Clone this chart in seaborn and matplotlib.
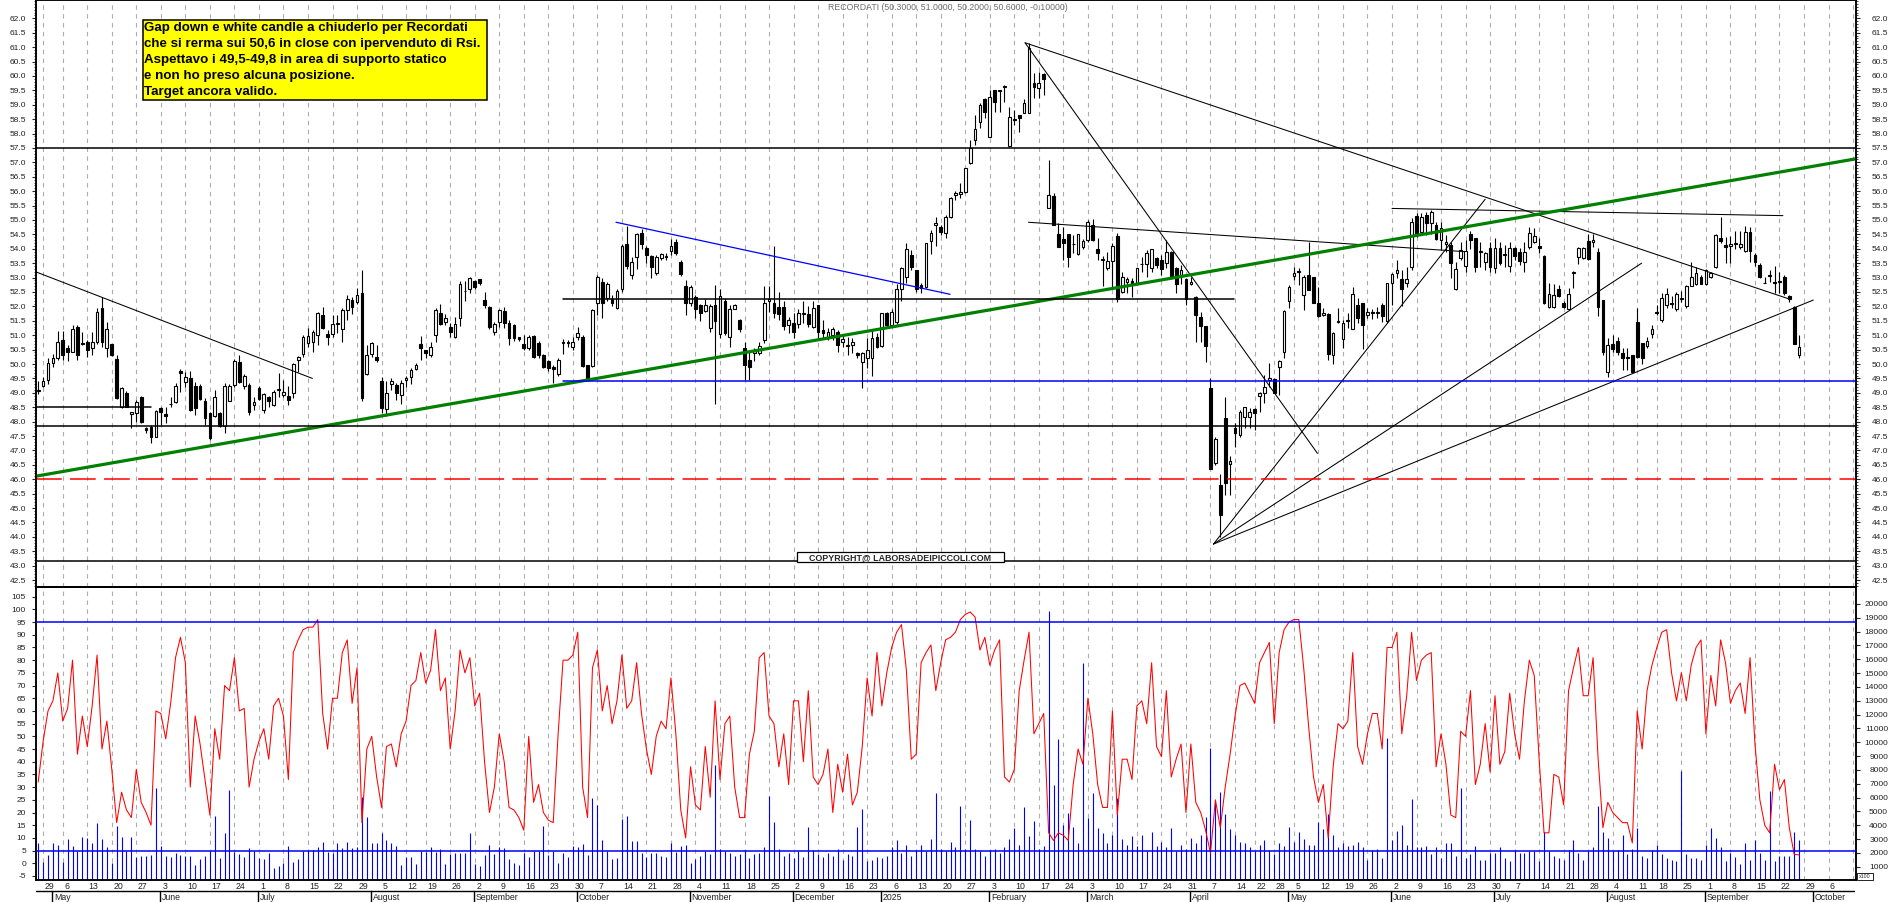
import numpy as np
import pandas as pd
import matplotlib
matplotlib.use("Agg")
import matplotlib.pyplot as plt
import matplotlib.transforms as mtransforms
from matplotlib.patches import Rectangle
from matplotlib.lines import Line2D
import seaborn as sns

W, H = 1890, 902
sns.set_theme(style="white")
plt.rcParams['font.family'] = ['Liberation Sans', 'DejaVu Sans']
plt.rcParams['lines.scale_dashes'] = False

# ---------------- calendar (Borsa Italiana trading days) ----------------
HOLIDAYS = ['2024-05-01', '2024-08-15', '2024-12-24', '2024-12-25', '2024-12-26',
            '2024-12-31', '2025-01-01', '2025-04-18', '2025-04-21', '2025-05-01',
            '2025-08-15']
calendar = pd.bdate_range("2024-04-26", "2025-10-17", freq="C", holidays=HOLIDAYS)
MONTH_NAMES = ["2025", "February", "March", "April", "May", "June", "July", "August",
               "September", "October", "November", "December"]

# ---------------- data: RECORDATI daily OHLC ----------------
open_ = [
    49.05, 49.25, 49.45, 50.05, 50.2, 50.85, 50.55, 50.4, 51.3, 50.72,
    50.75, 50.55, 50.77, 51.93, 50.54, 50.68, 50.17, 48.5, 49.0, 48.28,
    48.31, 48.85, 47.77, 47.83, 47.48, 48.46, 48.27, 48.6, 48.69, 49.77,
    49.39, 49.53, 49.24, 49.24, 48.73, 48.31, 48.2, 48.29, 47.85, 48.73,
    49.27, 50.06, 49.22, 49.27, 48.56, 49.16, 48.41, 48.85, 48.56, 49.1,
    48.93, 48.9, 48.98, 50.14, 50.35, 50.72, 50.78, 51.01, 51.7, 51.04,
    51.04, 51.4, 51.22, 51.88, 52.22, 52.14, 52.48, 49.65, 50.34, 50.26,
    49.42, 48.45, 49.29, 49.27, 48.93, 49.46, 49.56, 49.82, 50.68, 50.49,
    50.31, 51.01, 51.78, 51.47, 51.3, 50.95, 51.59, 52.52, 52.6, 52.88,
    52.94, 52.22, 51.97, 51.12, 51.47, 51.84, 51.41, 51.35, 50.94, 50.69,
    50.54, 50.97, 50.74, 50.31, 50.1, 49.91, 49.65, 50.73, 50.74, 50.6,
    50.95, 50.93, 49.96, 49.93, 52.13, 52.86, 52.28, 52.25, 51.93, 52.59,
    54.17, 53.09, 53.7, 54.56, 54.02, 53.75, 53.17, 53.67, 53.72, 53.93,
    54.25, 53.55, 52.71, 52.11, 52.31, 52.05, 51.84, 51.24, 52.05, 51.03,
    52.19, 50.95, 51.91, 51.53, 50.55, 50.14, 50.37, 50.37, 50.83, 52.2,
    52.11, 51.97, 51.99, 51.36, 51.41, 51.39, 51.75, 51.73, 51.3, 52.05,
    51.18, 50.89, 51.0, 51.12, 50.78, 50.62, 50.66, 50.37, 50.06, 50.2,
    50.2, 50.95, 50.63, 51.76, 51.36, 51.47, 52.59, 53.03, 53.78, 53.26,
    52.74, 52.66, 54.28, 54.83, 54.77, 54.54, 55.12, 55.85, 55.89, 55.98,
    56.99, 57.78, 58.39, 59.19, 57.89, 59.51, 59.46, 59.6, 57.57, 58.47,
    58.64, 58.72, 58.7, 59.77, 59.57, 60.07, 55.4, 55.83, 54.51, 54.33,
    54.51, 54.15, 53.82, 54.05, 54.3, 54.83, 53.98, 53.6, 53.32, 53.58,
    54.44, 52.51, 52.83, 52.89, 52.8, 53.46, 53.47, 53.32, 53.67, 53.61,
    53.49, 53.9, 53.32, 53.09, 52.94, 52.78, 52.31, 51.64, 51.32, 49.16,
    46.58, 45.8, 48.11, 46.52, 47.79, 47.54, 48.17, 48.17, 48.44, 48.9,
    48.98, 49.45, 49.47, 49.91, 50.43, 52.19, 53.05, 53.18, 52.4, 53.09,
    53.01, 52.13, 51.7, 51.74, 50.31, 51.46, 50.86, 51.49, 51.2, 52.05,
    52.11, 51.7, 51.8, 51.77, 52.05, 51.49, 52.82, 53.17, 52.94, 52.8,
    53.38, 55.14, 54.59, 55.17, 54.88, 54.83, 54.31, 54.15, 54.13, 52.59,
    53.67, 53.4, 54.5, 54.36, 53.9, 53.55, 54.02, 53.34, 54.04, 53.8,
    53.41, 54.02, 53.9, 53.55, 54.07, 54.25, 54.1, 53.75, 51.99, 51.99,
    52.59, 52.11, 51.9, 53.16, 53.73, 53.69, 54.27, 54.22, 53.88, 52.22,
    49.71, 50.68, 50.8, 50.37, 50.22, 50.31, 51.47, 50.72, 50.62, 51.04,
    51.76, 51.53, 52.05, 52.08, 51.9, 52.27, 52.01, 52.71, 52.78, 53.03,
    52.78, 53.01, 53.38, 54.37, 54.13, 54.1, 54.15, 54.07, 53.93, 54.59,
    53.78, 53.44, 52.82, 53.05, 52.85, 52.87, 53.01, 52.36, 51.99, 50.3]
high = [
    49.4, 49.55, 50.2, 50.35, 51.15, 51.15, 50.65, 51.35, 51.35, 51.1,
    50.85, 51.1, 51.93, 52.33, 51.47, 50.7, 50.3, 49.2, 49.05, 48.35,
    48.75, 48.9, 47.83, 47.87, 48.4, 48.52, 48.52, 48.87, 49.33, 49.82,
    49.73, 49.77, 49.39, 49.3, 48.81, 48.35, 49.1, 48.35, 49.33, 49.3,
    50.17, 50.31, 49.65, 49.33, 48.87, 49.22, 49.0, 48.89, 49.1, 49.68,
    49.45, 49.24, 50.03, 50.28, 51.0, 51.24, 51.18, 51.82, 51.99, 51.18,
    51.7, 51.7, 51.93, 52.4, 52.34, 52.63, 53.26, 50.66, 50.78, 50.66,
    49.55, 49.4, 49.5, 49.35, 49.45, 49.58, 49.85, 50.05, 50.97, 50.5,
    50.77, 51.93, 52.08, 51.75, 51.43, 51.64, 52.89, 52.88, 53.03, 52.92,
    52.96, 52.5, 52.0, 51.45, 51.9, 51.99, 51.53, 51.4, 50.95, 51.0,
    51.02, 51.0, 50.8, 50.35, 50.15, 49.95, 50.2, 50.88, 50.85, 50.95,
    51.3, 51.0, 49.98, 51.9, 53.1, 53.0, 52.85, 52.4, 52.6, 54.15,
    54.8, 53.7, 54.55, 54.7, 54.1, 53.8, 53.8, 53.85, 53.85, 54.35,
    54.35, 53.6, 52.9, 52.75, 52.4, 52.1, 52.25, 52.1, 52.74, 52.6,
    52.3, 52.05, 52.1, 51.55, 50.78, 50.4, 50.55, 50.78, 52.71, 52.71,
    54.1, 52.5, 52.17, 51.64, 51.76, 51.9, 52.2, 52.0, 52.2, 52.05,
    51.53, 51.25, 51.3, 51.18, 51.0, 50.95, 50.9, 50.43, 50.43, 50.89,
    51.18, 51.06, 51.76, 51.82, 51.9, 52.78, 53.36, 54.19, 53.95, 53.26,
    52.8, 54.19, 54.65, 55.09, 54.83, 55.17, 55.81, 56.0, 56.29, 56.82,
    57.78, 58.64, 59.05, 59.22, 59.51, 59.51, 59.51, 59.69, 58.91, 58.82,
    58.64, 59.19, 61.13, 60.09, 60.15, 60.1, 57.08, 55.92, 54.88, 54.77,
    54.51, 54.47, 54.51, 54.35, 55.0, 55.05, 54.36, 53.75, 53.9, 54.21,
    54.56, 53.2, 53.01, 52.97, 53.32, 53.73, 53.96, 53.98, 53.73, 53.78,
    54.3, 53.93, 53.36, 53.44, 52.97, 53.03, 52.36, 51.82, 51.32, 49.5,
    47.45, 46.17, 48.86, 46.8, 47.94, 48.4, 48.52, 48.46, 48.46, 49.04,
    49.62, 50.02, 49.5, 50.14, 51.87, 52.74, 53.38, 53.32, 53.09, 54.25,
    53.01, 52.68, 51.93, 51.76, 51.12, 51.93, 51.53, 51.76, 52.68, 52.28,
    52.11, 51.93, 51.9, 51.99, 52.11, 52.82, 53.15, 53.61, 53.26, 53.36,
    55.06, 55.25, 55.25, 55.29, 55.35, 54.94, 54.94, 54.48, 54.25, 53.55,
    54.25, 54.3, 54.6, 54.39, 54.25, 53.9, 54.25, 54.36, 54.25, 54.13,
    54.25, 54.07, 54.02, 54.25, 54.77, 54.73, 54.36, 53.79, 52.8, 52.77,
    52.74, 52.17, 52.63, 53.23, 54.07, 54.07, 54.5, 54.5, 54.02, 52.22,
    50.92, 51.0, 50.95, 50.54, 50.54, 50.31, 51.93, 50.72, 50.95, 51.35,
    52.05, 52.45, 52.65, 52.35, 52.5, 52.55, 52.75, 53.55, 53.35, 53.1,
    53.3, 53.2, 54.5, 55.12, 54.4, 54.45, 54.62, 54.62, 54.8, 54.75,
    53.84, 53.5, 53.01, 53.25, 53.4, 53.2, 53.1, 52.4, 52.0, 51.0]
low = [
    48.95, 49.2, 49.3, 49.9, 50.15, 50.15, 50.1, 50.4, 50.15, 50.65,
    50.25, 50.3, 50.7, 50.6, 50.25, 50.28, 48.8, 48.46, 48.5, 47.78,
    48.0, 47.95, 47.62, 47.27, 47.45, 47.9, 47.95, 48.5, 48.63, 49.04,
    49.2, 48.37, 48.23, 48.75, 47.9, 47.36, 48.15, 47.8, 47.6, 48.7,
    49.2, 49.35, 49.15, 48.23, 48.4, 48.75, 48.31, 48.52, 48.55, 48.87,
    48.87, 48.58, 48.81, 49.73, 50.26, 50.6, 50.43, 50.66, 51.22, 50.66,
    50.93, 51.07, 50.78, 51.53, 51.74, 52.1, 48.7, 49.62, 50.26, 50.08,
    48.3, 48.2, 49.1, 48.75, 48.6, 49.2, 49.3, 49.8, 50.13, 50.2,
    50.25, 50.77, 51.35, 51.35, 50.95, 50.9, 51.32, 52.2, 52.45, 52.6,
    52.75, 51.95, 51.2, 51.0, 51.3, 51.24, 50.66, 50.8, 50.8, 50.5,
    50.5, 50.2, 50.2, 49.85, 49.75, 49.33, 49.6, 50.35, 50.6, 50.5,
    50.85, 49.9, 49.4, 49.9, 51.7, 51.6, 52.2, 52.0, 51.9, 52.5,
    53.3, 52.95, 53.3, 54.0, 53.5, 53.0, 53.1, 53.6, 53.6, 53.8,
    53.8, 53.05, 51.7, 52.0, 51.6, 51.5, 51.8, 51.1, 48.6, 50.9,
    51.0, 50.6, 51.9, 51.1, 49.44, 49.44, 50.1, 50.3, 50.72, 51.82,
    51.58, 51.53, 51.18, 51.07, 50.9, 51.24, 51.41, 51.3, 51.24, 50.83,
    50.9, 50.85, 50.83, 50.43, 50.6, 50.31, 50.37, 50.2, 49.16, 49.85,
    49.6, 50.54, 50.6, 51.3, 51.3, 51.4, 52.2, 52.8, 53.26, 52.5,
    52.45, 52.63, 53.82, 54.1, 54.48, 54.36, 55.06, 55.7, 55.75, 55.93,
    56.94, 57.6, 58.18, 58.53, 57.89, 58.76, 58.76, 59.1, 57.55, 58.3,
    58.07, 58.7, 58.7, 59.22, 59.22, 59.34, 55.4, 54.83, 54.05, 53.6,
    53.35, 53.84, 53.8, 54.0, 54.25, 54.28, 53.6, 52.7, 53.26, 52.6,
    52.16, 52.45, 52.45, 52.32, 52.74, 53.2, 53.03, 53.2, 53.32, 53.09,
    53.32, 52.94, 52.45, 52.78, 52.05, 52.74, 50.77, 50.77, 50.08, 46.34,
    46.5, 43.99, 45.45, 45.45, 47.13, 47.48, 47.77, 47.77, 47.71, 48.35,
    48.63, 49.21, 49.0, 48.92, 50.2, 51.93, 52.92, 52.74, 51.87, 52.57,
    52.11, 51.64, 51.67, 50.14, 50.0, 51.41, 50.55, 51.24, 51.2, 51.41,
    50.51, 51.59, 51.55, 51.59, 51.47, 51.43, 52.05, 52.97, 52.0, 52.68,
    53.26, 54.4, 54.5, 54.48, 54.5, 54.3, 53.96, 53.9, 53.0, 52.57,
    53.6, 53.2, 54.0, 53.2, 53.38, 53.27, 53.2, 53.15, 53.44, 53.38,
    53.2, 53.61, 53.44, 53.2, 54.0, 54.19, 53.84, 52.07, 51.96, 51.96,
    52.34, 51.93, 51.88, 52.63, 53.46, 53.64, 53.6, 54.07, 51.68, 50.3,
    49.56, 50.43, 50.31, 49.8, 49.8, 49.68, 50.2, 50.0, 50.55, 50.9,
    51.7, 51.45, 51.95, 51.95, 51.85, 52.15, 51.95, 52.7, 52.75, 52.78,
    52.75, 53.0, 53.33, 54.2, 53.5, 53.5, 54.0, 54.0, 53.9, 53.55,
    53.4, 52.97, 52.8, 52.85, 52.45, 52.45, 52.4, 52.15, 50.7, 50.2]
close = [
    49.1, 49.4, 50.05, 50.2, 50.75, 50.3, 50.4, 51.2, 50.3, 50.68,
    50.5, 50.75, 51.79, 50.77, 51.2, 50.33, 48.81, 49.16, 48.5, 48.32,
    48.67, 48.0, 47.7, 47.46, 48.38, 48.35, 48.18, 48.62, 49.24, 49.68,
    49.54, 48.4, 48.46, 48.78, 48.12, 47.42, 48.87, 47.85, 49.24, 49.22,
    50.11, 49.39, 49.6, 48.35, 48.67, 48.79, 48.95, 48.7, 49.04, 49.13,
    49.04, 48.75, 49.99, 50.23, 50.95, 50.98, 51.12, 51.78, 51.24, 50.95,
    51.39, 51.42, 51.88, 52.25, 51.97, 52.4, 48.81, 50.31, 50.74, 50.14,
    48.48, 48.98, 49.41, 48.98, 49.33, 49.5, 49.79, 49.97, 50.57, 50.39,
    50.6, 51.87, 51.39, 51.59, 51.1, 51.38, 52.78, 52.54, 52.99, 52.66,
    52.8, 52.04, 51.3, 51.39, 51.87, 51.41, 50.92, 50.9, 50.86, 50.54,
    50.95, 50.23, 50.31, 49.9, 49.85, 49.82, 50.14, 50.75, 50.77, 50.77,
    51.09, 49.93, 49.47, 51.87, 53.01, 52.11, 52.78, 52.11, 52.55, 54.1,
    53.4, 53.55, 54.51, 54.17, 53.78, 53.36, 53.7, 53.82, 53.74, 54.1,
    53.84, 53.11, 52.11, 52.66, 51.9, 51.76, 52.05, 52.01, 51.5, 52.36,
    51.07, 51.9, 52.05, 51.2, 49.97, 49.91, 50.46, 50.63, 52.11, 52.25,
    51.76, 51.74, 51.33, 51.53, 51.12, 51.76, 51.77, 51.39, 51.93, 51.12,
    51.07, 51.1, 51.2, 50.66, 50.87, 50.64, 50.78, 50.31, 50.39, 50.48,
    50.89, 50.6, 51.76, 51.36, 51.82, 52.59, 53.32, 53.98, 53.36, 52.59,
    52.63, 54.19, 54.54, 54.88, 54.59, 55.12, 55.75, 55.94, 55.98, 56.79,
    57.49, 58.16, 58.99, 58.76, 59.26, 59.11, 59.5, 59.65, 58.59, 58.51,
    58.55, 59.05, 60.96, 59.6, 59.77, 59.88, 55.87, 54.83, 54.07, 54.19,
    53.7, 54.17, 54.51, 54.28, 54.94, 54.3, 53.84, 53.63, 53.58, 54.1,
    52.25, 53.01, 52.94, 52.78, 53.32, 53.48, 53.84, 53.98, 53.43, 53.29,
    53.9, 52.97, 52.78, 53.26, 52.25, 52.86, 51.7, 51.32, 50.64, 46.34,
    47.39, 44.76, 45.88, 46.63, 47.62, 48.35, 48.5, 48.35, 48.29, 48.98,
    49.21, 49.5, 49.01, 50.12, 51.85, 52.68, 53.15, 53.22, 53.01, 52.57,
    52.13, 51.67, 51.76, 50.35, 51.09, 51.48, 51.44, 51.51, 52.42, 51.59,
    51.35, 51.82, 51.76, 51.79, 51.67, 52.8, 53.11, 53.26, 52.59, 52.94,
    54.94, 54.48, 55.09, 54.88, 55.29, 54.33, 54.71, 54.22, 53.5, 53.3,
    53.96, 53.92, 54.31, 53.36, 53.94, 53.84, 53.38, 54.04, 53.5, 53.82,
    54.04, 53.75, 53.58, 53.9, 54.54, 54.46, 54.02, 52.11, 52.42, 52.4,
    52.37, 51.99, 52.42, 53.2, 54.04, 54.04, 53.65, 54.31, 51.99, 50.41,
    50.65, 50.52, 50.41, 50.22, 50.26, 49.71, 50.23, 50.2, 50.81, 51.2,
    51.82, 52.28, 52.42, 52.12, 52.42, 52.3, 52.71, 53.03, 53.15, 52.78,
    53.28, 53.17, 54.47, 54.28, 54.05, 54.15, 54.21, 54.15, 54.59, 53.93,
    53.55, 53.01, 52.8, 53.07, 52.82, 52.85, 52.45, 52.26, 50.7, 50.6]

# RSI (left scale of the lower panel)
rsi = [
    32, 48, 60, 64, 75, 56, 61, 80, 43, 58,
    46, 62, 82, 45, 56, 37, 16, 28, 21, 18,
    37, 24, 20, 15, 60, 59, 49, 63, 81, 89,
    79, 30, 58, 47, 33, 19, 53, 41, 70, 68,
    81, 60, 61, 30, 41, 48, 53, 41, 62, 65,
    58, 33, 83, 88, 92, 93, 93, 96, 59, 45,
    65, 65, 83, 88, 63, 77, 16, 45, 50, 34,
    22, 46, 47, 38, 51, 56, 70, 72, 83, 71,
    76, 92, 68, 73, 45, 60, 84, 75, 81, 62,
    67, 40, 20, 30, 51, 40, 22, 21, 18, 13,
    50, 24, 31, 20, 17, 16, 51, 80, 80, 82,
    91, 30, 18, 77, 84, 60, 70, 55, 64, 82,
    61, 64, 79, 59, 45, 35, 50, 56, 53, 73,
    51, 21, 10, 38, 23, 21, 46, 26, 64, 33,
    55, 58, 30, 18, 18, 43, 52, 81, 83, 58,
    55, 38, 51, 31, 64, 64, 40, 68, 34, 31,
    35, 45, 20, 39, 28, 43, 23, 28, 46, 73,
    58, 83, 62, 75, 85, 91, 94, 76, 41, 43,
    79, 83, 86, 68, 79, 88, 89, 91, 96, 98,
    99, 97, 84, 89, 78, 84, 88, 34, 32, 37,
    68, 80, 91, 51, 55, 59, 12, 9, 12, 11,
    9, 31, 45, 39, 65, 51, 31, 22, 22, 60,
    19, 41, 41, 33, 62, 64, 55, 79, 46, 42,
    68, 34, 41, 47, 20, 47, 24, 20, 13, 4,
    25, 14, 30, 43, 58, 70, 71, 67, 63, 79,
    83, 87, 55, 83, 92, 95, 96, 96, 77, 54,
    34, 24, 31, 10, 38, 55, 53, 56, 83, 46,
    39, 51, 59, 59, 45, 85, 85, 91, 51, 66,
    91, 72, 80, 82, 83, 38, 51, 39, 19, 18,
    52, 50, 68, 31, 39, 55, 36, 66, 39, 44,
    67, 51, 41, 64, 80, 74, 41, 12, 12, 35,
    34, 23, 68, 77, 85, 66, 66, 81, 42, 14,
    24, 20, 18, 16, 16, 8, 60, 45, 68, 78,
    85, 91, 92, 75, 64, 75, 64, 78, 85, 88,
    51, 74, 62, 88, 79, 63, 68, 71, 59, 81,
    47, 25, 15, 12, 39, 29, 33, 14, 3.5, 3.3]

# Volume (right scale of the lower panel, x100)
volume = [
    2690, 1362, 1845, 2737, 2567, 1362, 2977, 2495, 2157, 3170,
    3050, 2737, 4135, 2977, 2446, 1241, 3942, 3170, 2157, 3170,
    1675, 1773, 1773, 1845, 6666, 2495, 1773, 1675, 2013, 1845,
    1773, 1773, 1121, 1532, 1773, 2157, 4665, 1604, 3411, 6547,
    2085, 1916, 1675, 2326, 2157, 1604, 1532, 1965, 880, 1049,
    1241, 2495, 1362, 1532, 2157, 2200, 2200, 2398, 2808, 2037,
    1965, 2737, 2326, 2808, 2326, 2446, 6064, 4617, 2737, 2690,
    3411, 2929, 2690, 2495, 1121, 1675, 1675, 1193, 2157, 2085,
    2398, 2085, 2250, 1193, 1916, 1965, 1965, 1965, 3411, 1193,
    1049, 1845, 2567, 1916, 2446, 2326, 1532, 1241, 1121, 1965,
    1675, 2157, 2157, 3942, 1845, 2157, 1241, 1965, 1700, 2495,
    2446, 2640, 1845, 5944, 5462, 2929, 2157, 1532, 1604, 4424,
    4665, 2881, 2881, 1965, 1675, 2013, 2013, 1773, 1675, 2690,
    2085, 2495, 2567, 1241, 1532, 1800, 2100, 1900, 8350, 2300,
    2100, 2000, 1800, 1900, 2200, 1600, 1900, 2000, 2400, 6100,
    4200, 2300, 1800, 2000, 1600, 2100, 1700, 3900, 2200, 1900,
    1700, 2000, 1800, 2300, 1500, 1900, 1800, 3900, 5200, 1400,
    1500, 1700, 1600, 1800, 2400, 2900, 2000, 2600, 1800, 2200,
    2600, 2100, 3000, 6300, 2300, 2100, 2800, 2400, 5400, 2300,
    4400, 2300, 2100, 1800, 2200, 2300, 2000, 2400, 3000, 3800,
    2600, 5300, 3200, 4300, 2300, 2500, 19500, 6900, 10200, 4000,
    4900, 3900, 2700, 15700, 4500, 6300, 3800, 3400, 2700, 3300,
    6000, 3000, 2600, 3200, 2500, 3300, 2100, 3500, 2500, 2800,
    2400, 3800, 2100, 2600, 2300, 3100, 2700, 3300, 4600, 9600,
    5800, 6400, 4800, 3700, 3300, 2800, 2700, 2400, 2100, 2600,
    2900, 2200, 1900, 2700, 2500, 3900, 2800, 3500, 3000, 2600,
    2600, 4200, 3700, 4800, 3300, 2400, 2700, 2500, 2600, 2800,
    2400, 1500, 2200, 2300, 1600, 10300, 2900, 3600, 4000, 2600,
    5900, 2400, 2400, 2500, 1900, 2400, 1600, 2700, 2700, 1800,
    6700, 1600, 1900, 2500, 1500, 1500, 2000, 2000, 2400, 1600,
    1400, 2200, 2000, 2000, 2100, 2100, 1400, 3500, 2100, 1800,
    1600, 1500, 2200, 2900, 2000, 1500, 2100, 2400, 5400, 3500,
    3100, 2100, 2200, 3300, 1900, 2300, 3800, 1800, 1600, 2200,
    2600, 1900, 1600, 1500, 1400, 7900, 1900, 1600, 1600, 1500,
    2600, 3800, 3100, 2400, 1400, 2000, 1700, 1200, 2700, 1500,
    2900, 2000, 1500, 6500, 1400, 1800, 1800, 1800, 3500, 2950]

# drawn analysis lines: (bar index start, price start, bar index end, price end)
trend_black = [(-0.5, 53.2, 55.9, 49.5),
               (201.2, 61.15, 357.1, 52.25),
               (201.2, 61.15, 260.8, 46.9),
               (201.9, 54.92, 290.8, 53.9),
               (276.0, 55.4, 355.7, 55.15),
               (239.6, 43.75, 295.0, 55.72),
               (239.6, 43.75, 326.9, 53.5),
               (239.6, 43.75, 361.9, 52.22)]
trend_blue = [(117.8, 54.92, 185.9, 52.42)]
trend_green = [(-0.33, 46.11, 370.5, 57.12)]
level_segments = [(-0.5, 23.0, 48.5, 'black'), (107.0, 243.8, 52.25, 'black'),
                  (107.0, 370.6, 49.4, 'blue')]
level_full = [57.5, 47.85, 43.15]
level_target = 46.0
rsi_levels = [95, 5]

note_lines = ["Gap down e white candle a chiuderlo per Recordati",
              "che si rerma sui 50,6 in close con ipervenduto di Rsi.",
              "Aspettavo i 49,5-49,8 in area di supporto statico",
              "e non ho preso alcuna posizione.",
              "Target ancora valido."]
header = "RECORDATI (50.3000, 51.0000, 50.2000, 50.6000, -0.10000)"
copyright_txt = "COPYRIGHT@ LABORSADEIPICCOLI.COM"

# ---------------- figure ----------------
fig = plt.figure(figsize=(W / 100, H / 100), dpi=100)
fig.patch.set_facecolor('white')


def fx(px):
    return px / W


def fy(py):
    return 1 - py / H


XL, XR = 35.7, 1855.7
P_BOT, R_BOT = 587.0, 880.3
ax_p = fig.add_axes([fx(XL), fy(P_BOT), (XR - XL) / W, P_BOT / H])
ax_r = fig.add_axes([fx(XL), fy(R_BOT), (XR - XL) / W, (R_BOT - P_BOT) / H])
ax_v = ax_r.twinx()
ax_p2 = ax_p.twinx()

xmin, xmax = -0.51, 370.54
for a in (ax_p, ax_r, ax_v, ax_p2):
    a.set_xlim(xmin, xmax)
    a.set_xticks([])
    a.set_facecolor('none')
    for s in a.spines.values():
        s.set_color('black')
        s.set_linewidth(1.1)
ax_p.set_facecolor('white')
ax_v.set_facecolor('white')

n = len(close)
xi = np.arange(n)
o = np.array(open_); c = np.array(close); hi = np.array(high); lo = np.array(low)

# weekly dashed grid (under the marks of both panels)
wk = []
for i in range(1, len(calendar)):
    if calendar[i].isocalendar()[1] != calendar[i - 1].isocalendar()[1]:
        if wk and i - wk[-1] < 3:
            continue
        wk.append(i)
wk = [i for i in wk if i <= xmax]
for a in (ax_p, ax_v):
    for i in wk:
        a.axvline(i, color='#adadad', lw=0.8, ls=(0, (3.2, 3.2)), zorder=0)

# candles
ax_p.vlines(xi, lo, hi, color='black', lw=0.8, zorder=3)
body_lo = np.minimum(o, c)
body_h = np.maximum(np.abs(c - o), 0.025)
ax_p.bar(xi, body_h, bottom=body_lo, width=0.56,
         color=np.where(c >= o, 'white', 'black'), edgecolor='black',
         linewidth=0.8, zorder=4)

# analysis lines
for (i0, p0, i1, p1) in trend_black:
    ax_p.plot([i0, i1], [p0, p1], color='black', lw=0.75, zorder=5)
for (i0, p0, i1, p1) in trend_blue:
    ax_p.plot([i0, i1], [p0, p1], color='#0000ff', lw=0.9, zorder=5)
for (i0, p0, i1, p1) in trend_green:
    ax_p.plot([i0, i1], [p0, p1], color='#008000', lw=2.3, zorder=5,
              solid_capstyle='butt')
for (i0, i1, p, col) in level_segments:
    ax_p.plot([i0, i1], [p, p], color='#0000ff' if col == 'blue' else 'black',
              lw=1.1, zorder=5)
for p in level_full:
    ax_p.axhline(p, color='black', lw=1.1, zorder=5)
ax_p.axhline(level_target, color='#ff0000', lw=1.1, ls=(0, (18.5, 6)), zorder=5)

# price scale
ax_p.set_ylim(42.26, 62.635)
ax_p2.set_ylim(42.26, 62.635)
pt = np.arange(42.5, 62.01, 0.5)
for a in (ax_p, ax_p2):
    a.set_yticks(pt)
    a.set_yticklabels([f"{v:.1f}" for v in pt])
    a.set_yticks(np.arange(42.3, 62.61, 0.1), minor=True)
ax_p.tick_params(axis='y', which='major', left=True, right=False, labelleft=True,
                 labelright=False, length=2.9, width=0.8, pad=4.1, labelsize=6,
                 labelcolor='#222222', direction='out')
ax_p.tick_params(axis='y', which='minor', left=True, right=False, length=1.5, width=0.6,
                 direction='out')
ax_p2.tick_params(axis='y', which='major', left=False, right=True, labelleft=False,
                  labelright=True, length=2.9, width=0.8, pad=20.4, labelsize=6,
                  labelcolor='#222222', direction='out')
ax_p2.tick_params(axis='y', which='minor', left=False, right=True, length=1.5,
                  width=0.6, direction='out')
for t in ax_p2.get_yticklabels():
    t.set_ha('right')

# volume
ax_v.vlines(xi, 0, volume, color='#0000ff', lw=0.8, zorder=2)
ax_v.set_ylim(14, 21228)
vt = np.arange(1000, 20001, 1000)
ax_v.set_yticks(vt)
ax_v.set_yticklabels([str(v) for v in vt])
ax_v.tick_params(axis='y', right=True, left=False, length=2.9, width=0.8, pad=20.4,
                 labelsize=6, labelcolor='#222222', direction='out')
for t in ax_v.get_yticklabels():
    t.set_ha('right')

# RSI
ax_r.set_zorder(ax_v.get_zorder() + 1)
ax_r.patch.set_visible(False)
sns.lineplot(x=xi, y=rsi, ax=ax_r, color='#ff0000', lw=0.75, zorder=4, legend=False)
for lv in rsi_levels:
    ax_r.axhline(lv, color='#0000ff', lw=1.1, zorder=5)
ax_r.set_ylim(-6.70, 108.82)
rt = np.arange(-5, 106, 5)
ax_r.set_yticks(rt)
ax_r.set_yticklabels([str(v) for v in rt])
ax_r.tick_params(axis='y', left=True, right=False, length=2.9, width=0.8, pad=4.1,
                 labelsize=6, labelcolor='#222222', direction='out')
ax_r.set_xlabel(''); ax_r.set_ylabel(''); ax_v.set_ylabel('')

# ---------------- date axis rows ----------------
tr = mtransforms.blended_transform_factory(ax_r.transData, fig.transFigure)
fig.add_artist(Line2D([xmin, xmax - 0.4], [fy(891), fy(891)], transform=tr,
                      color='black', lw=1.0))
for i in wk:
    if i > 368:
        continue
    fig.text(i + 0.3, fy(886.2), str(calendar[i].day), transform=tr, fontsize=6.3,
             ha='left', va='center', color='#222222')
for i in range(1, len(calendar)):
    if calendar[i].month != calendar[i - 1].month and i <= xmax:
        name = MONTH_NAMES[calendar[i].month - 1]
        fig.add_artist(Line2D([i - 0.2, i - 0.2], [fy(891), fy(902)], transform=tr,
                              color='black', lw=1.0))
        fig.text(i + 0.2, fy(897), name, transform=tr, fontsize=6.3, ha='left',
                 va='center', color='#222222')

# x100 tag
fig.add_artist(Rectangle((fx(1857), fy(880)), 16 / W, 7.5 / H, transform=fig.transFigure,
                         facecolor='white', edgecolor='black', lw=0.6))
fig.text(fx(1865), fy(876.2), "x100", fontsize=3.8, ha='center', va='center')

# ---------------- texts ----------------
fig.text(fx(828), fy(8), header, fontsize=6.3, color='#6e6e6e', ha='left', va='center')

fig.add_artist(Rectangle((fx(142.7), fy(100)), (486.7 - 142.7) / W, (100 - 19.7) / H,
                         transform=fig.transFigure, facecolor='#ffff00',
                         edgecolor='black', lw=1.1, zorder=10))
for k, line in enumerate(note_lines):
    fig.text(fx(144.3), fy(27.6 + 16.2 * k), line, fontsize=9.6, fontweight='bold',
             color='black', ha='left', va='center', zorder=11)

fig.add_artist(Rectangle((fx(797), fy(562.3)), (1003.7 - 797) / W, 10.6 / H,
                         transform=fig.transFigure, facecolor='white',
                         edgecolor='black', lw=0.9, zorder=10))
fig.text(fx(900.3), fy(557.2), copyright_txt, fontsize=6.4, fontweight='bold',
         ha='center', va='center', zorder=11)

fig.savefig("out.png", dpi=100)
